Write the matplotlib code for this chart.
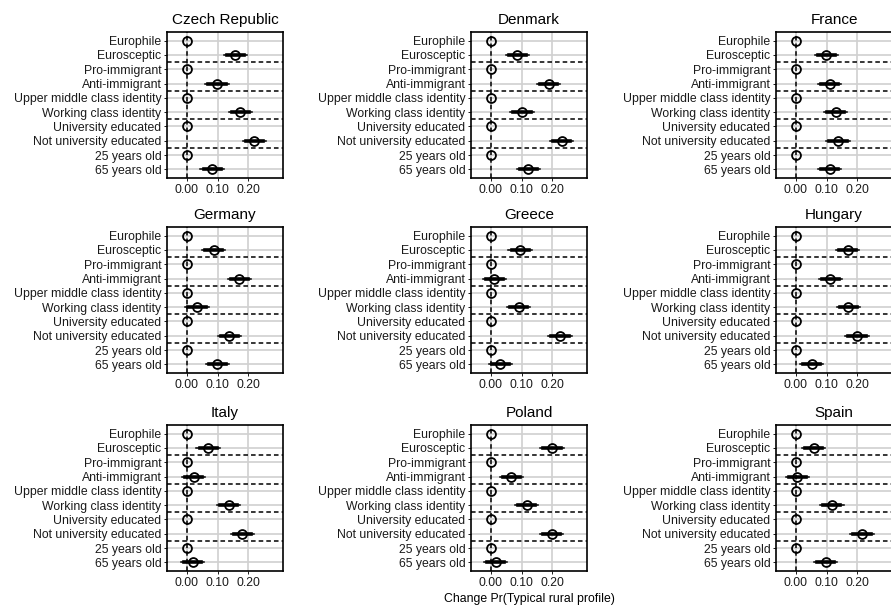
import numpy as np
import matplotlib
matplotlib.use("Agg")
import matplotlib.pyplot as plt

plt.rcParams['font.family'] = ['Liberation Sans', 'DejaVu Sans']

categories = ['Europhile', 'Eurosceptic', 'Pro-immigrant', 'Anti-immigrant',
              'Upper middle class identity', 'Working class identity',
              'University educated', 'Not university educated',
              '25 years old', '65 years old']

countries = ['Czech Republic', 'Denmark', 'France',
             'Germany', 'Greece', 'Hungary',
             'Italy', 'Poland', 'Spain']

# estimates for the non-reference categories (reference = 0)
# order: Eurosceptic, Anti-immigrant, Working class, Not university, 65 years
czech = [0.158, 0.098, 0.174, 0.220, 0.082]
denmark = [0.086, 0.188, 0.101, 0.231, 0.122]
france = [0.099, 0.110, 0.129, 0.137, 0.110]
germany = [0.087, 0.171, 0.033, 0.138, 0.099]
greece = [0.095, 0.011, 0.090, 0.225, 0.031]
hungary = [0.168, 0.112, 0.171, 0.199, 0.051]
italy = [0.069, 0.022, 0.136, 0.180, 0.019]
poland = [0.199, 0.066, 0.116, 0.198, 0.015]
spain = [0.058, 0.005, 0.117, 0.215, 0.097]

half95 = 0.038
half90 = 0.028

estimates = [czech, denmark, france, germany, greece, hungary, italy, poland, spain]

fig = plt.figure(figsize=(8.91, 6.06), dpi=100)
W, H = 891, 606
lefts = [167, 471, 776]
tops = [32, 227, 425]
aw, ah = 116, 146

ypos = np.arange(len(categories))
for i, (country, est) in enumerate(zip(countries, estimates)):
    r, c = divmod(i, 3)
    ax = fig.add_axes([lefts[c] / W, 1 - (tops[r] + ah) / H, aw / W, ah / H])
    vals = np.zeros(len(categories))
    vals[1::2] = est
    ax.grid(True, color='#d0d0d0', linewidth=1.2, zorder=0)
    ax.axvline(0, color='black', linestyle=(0, (3, 2)), linewidth=1.1, zorder=1)
    for yb in [1.5, 3.5, 5.5, 7.5]:
        ax.axhline(yb, color='black', linestyle=(0, (3, 2)), linewidth=1.1, zorder=1)
    for y, v in zip(ypos, vals):
        if v != 0:
            ax.plot([v - half95, v + half95], [y, y], color='black', linewidth=1.1, zorder=2)
            ax.plot([v - half90, v + half90], [y, y], color='black', linewidth=2.6, zorder=2)
    ax.plot(vals, ypos, 'o', markersize=6.4, markerfacecolor='none',
            markeredgecolor='black', markeredgewidth=1.3, zorder=3)
    ax.set_xlim(-0.065, 0.313)
    ax.set_ylim(9.6, -0.6)
    ax.set_xticks([0, 0.1, 0.2])
    ax.set_xticklabels(['0.00', '0.10', '0.20'])
    ax.set_yticks(ypos)
    ax.set_yticklabels(categories)
    ax.tick_params(labelsize=8.8, length=2.5, width=0.7, pad=1.5, colors='#1a1a1a')
    for s in ax.spines.values():
        s.set_linewidth(1.2)
    ax.set_axisbelow(True)
    ax.set_title(country, fontsize=11, pad=6)
    if i == 7:
        ax.set_xlabel('Change Pr(Typical rural profile)', fontsize=8.8, labelpad=3)

fig.savefig('out.png', dpi=100)
